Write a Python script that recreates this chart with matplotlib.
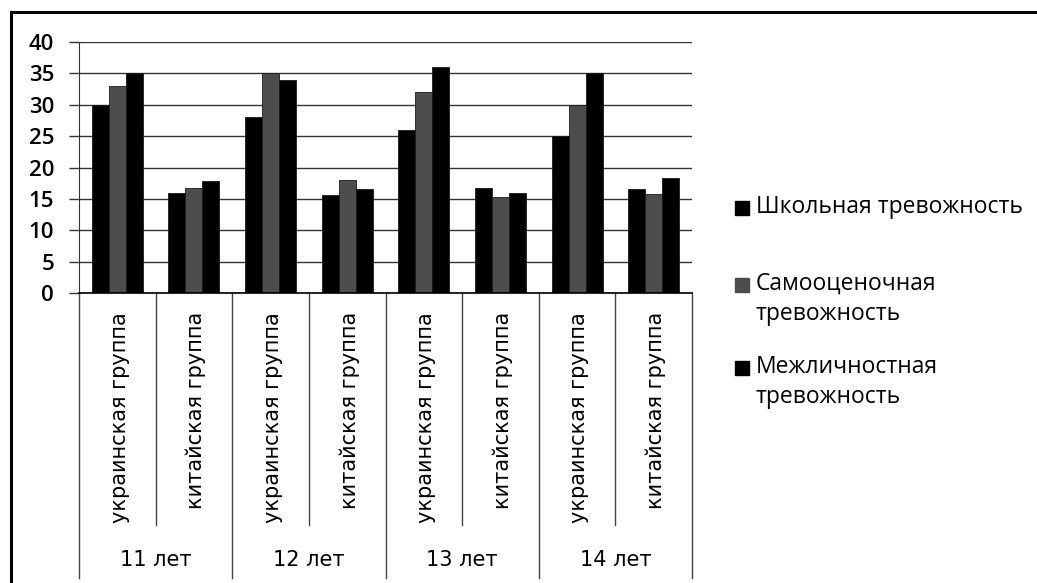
import numpy as np
import matplotlib.pyplot as plt
from matplotlib.lines import Line2D
from matplotlib.patches import Rectangle

groups = ['украинская группа', 'китайская группа'] * 4
ages = ['11 лет', '12 лет', '13 лет', '14 лет']
series = ['Школьная тревожность', 'Самооценочная\nтревожность', 'Межличностная\nтревожность']
school = [30, 16, 28, 15.6, 26, 16.7, 25, 16.6]
selfest = [33, 16.8, 35, 18, 32.1, 15.3, 30, 15.8]
interp = [35, 17.8, 34, 16.6, 36, 16, 35, 18.4]
colors = ['#000000', '#4d4d4d', '#000000']

W, H = 1037, 583
fig = plt.figure(figsize=(W/100, H/100), dpi=100)
ax = fig.add_axes([79/W, 1-293/H, (692-79)/W, 251/H])

x = np.arange(len(groups))
w = 1/4.5
for i, vals in enumerate([school, selfest, interp]):
    ax.bar(x + (i-1)*w, vals, w, color=colors[i], edgecolor='#1a1a1a', linewidth=0.6, zorder=3)

ax.set_xlim(-0.5, 7.5)
ax.set_ylim(0, 40)
ax.set_yticks(range(0, 41, 5))
ax.set_xticks([])
ax.grid(axis='y', color='#333333', linewidth=1.0, zorder=0)
for s in ['top', 'right', 'bottom']:
    ax.spines[s].set_visible(False)
ax.spines['left'].set_color('#333333')
ax.spines['left'].set_bounds(0, 40)
ax.tick_params(axis='y', length=7, width=1.0, color='#333333', labelsize=16, pad=11)
for t in ax.get_yticklabels():
    t.set_fontfamily('Open Sans')
    t.set_fontweight('semibold')

tr = ax.get_xaxis_transform()
ax.plot([-0.5, 7.5], [0, 0], color='#000000', lw=1.2, transform=tr, clip_on=False, zorder=4)
# separators below the axis
ax.plot([-0.5, -0.5], [0, -1.135], color='#444444', lw=1.0, transform=tr, clip_on=False)
for i in range(8):
    b = i + 0.5
    low = -0.924 if i % 2 == 0 else -1.135
    ax.plot([b, b], [0, low], color='#444444', lw=1.0, transform=tr, clip_on=False)
for i, g in enumerate(groups):
    ax.text(i + 0.03, -0.075, g, rotation=90, ha='center', va='top', transform=tr,
            fontsize=15, family='DejaVu Sans')
for j, a in enumerate(ages):
    ax.text(2*j + 0.5, -1.064, a, ha='center', va='center', transform=tr,
            fontsize=15, family='DejaVu Sans')

# legend, drawn by hand to keep the spacing of the original
leg_y = [208, 285, 368]
for c, lab, yy in zip(colors, series, leg_y):
    fig.add_artist(Rectangle((735/W, 1-(yy+7)/H), 14/W, 14/H, color=c, transform=fig.transFigure))
    fig.text(756/W, 1-(yy-13)/H, lab, ha='left', va='top', fontsize=16.5,
             family='Open Sans', linespacing=1.35)

# outer frame (left and top)
fig.add_artist(Line2D([11/W, 11/W], [0, 1-12/H], color='black', lw=2.2))
fig.add_artist(Line2D([11/W, 1], [1-12/H, 1-12/H], color='black', lw=2.2))

fig.savefig('out.png', dpi=100)
